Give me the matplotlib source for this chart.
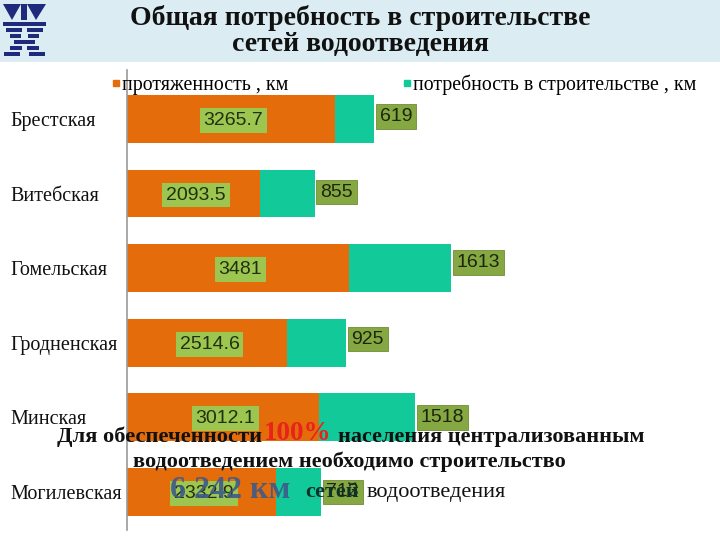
import numpy as np
import matplotlib.pyplot as plt
from matplotlib.patches import Rectangle, Polygon
from matplotlib.lines import Line2D

# данные по областям
regions = ['Брестская', 'Витебская', 'Гомельская', 'Гродненская', 'Минская', 'Могилевская']
length_km = [3265.7, 2093.5, 3481, 2514.6, 3012.1, 2332.9]
need_km = [619, 855, 1613, 925, 1518, 713]
need_lbl = ['619', '855', '1613', '925', '1518', '713']
len_lbl = ['3265.7', '2093.5', '3481', '2514.6', '3012.1', '2332.9']

ORANGE = '#e46c0a'
TEAL = '#12c99a'
SERIF = ['Liberation Serif', 'DejaVu Serif']
SANS = ['Liberation Sans', 'DejaVu Sans']

W, H = 720, 540
fig = plt.figure(figsize=(7.2, 5.4), dpi=100)


def fx(x):
    return x / W


def fy(y):
    return 1 - y / H


# шапка
fig.patches.append(Rectangle((0, fy(62)), 1, 62 / H, transform=fig.transFigure,
                             facecolor='#dbecf3', edgecolor='none', zorder=0))

# логотип (грубо)
navy = '#1f2a7c'
logo = [
    [(3, 4), (21, 4), (12, 20)],
    [(27, 4), (46, 4), (36, 20)],
    [(21, 4), (27, 4), (27, 20), (21, 20)],
    [(3, 22), (46, 22), (46, 26), (3, 26)],
    [(6, 28), (22, 28), (22, 32), (6, 32)],
    [(27, 28), (43, 28), (43, 32), (27, 32)],
    [(10, 34), (21, 34), (21, 38), (10, 38)],
    [(28, 34), (39, 34), (39, 38), (28, 38)],
    [(14, 40), (35, 40), (35, 44), (14, 44)],
    [(10, 46), (22, 46), (22, 50), (10, 50)],
    [(27, 46), (39, 46), (39, 50), (27, 50)],
    [(4, 52), (20, 52), (20, 56), (4, 56)],
    [(29, 52), (45, 52), (45, 56), (29, 56)],
]
for poly in logo:
    fig.patches.append(Polygon([(fx(x), fy(y)) for x, y in poly], closed=True,
                               transform=fig.transFigure, facecolor=navy,
                               edgecolor='none', zorder=1))

fig.text(fx(360), fy(18), 'Общая потребность в строительстве', ha='center', va='center',
         fontsize=20, fontweight='bold', family=SERIF, color='#111111')
fig.text(fx(360), fy(45), 'сетей водоотведения', ha='center', va='center',
         fontsize=20, fontweight='bold', family=SERIF, color='#111111')

# график
ax = fig.add_axes([fx(127), fy(530), 573 / W, 460 / H])
y = np.arange(len(regions))
bh = 0.64
b1 = ax.barh(y, length_km, height=bh, color=ORANGE, zorder=2)
b2 = ax.barh(y, need_km, left=length_km, height=bh, color=TEAL, zorder=2)

ax.set_xlim(0, 9000)
ax.set_ylim(5.51, -0.657)
ax.set_yticks(y)
ax.set_yticklabels(regions, family=SERIF, fontsize=14.5, color='#111111')
for lab in ax.get_yticklabels():
    lab.set_ha('left')
ax.tick_params(axis='y', length=0, pad=84)
ax.set_xticks([])
for s in ['top', 'right', 'bottom']:
    ax.spines[s].set_visible(False)
ax.spines['left'].set_color('#9a9a9a')
ax.spines['left'].set_linewidth(1.2)

dy = [-0.03, -0.02, -0.08, -0.05, 0.0, 0.0]
for i in range(len(regions)):
    ax.text(length_km[i] / 2 + 40, y[i] + 0.02, len_lbl[i], ha='center', va='center',
            fontsize=14, family=SANS, color='#22300f', zorder=4,
            bbox=dict(boxstyle='square,pad=0.2', facecolor='#9dc651', edgecolor='none'))
    ax.annotate(need_lbl[i], (length_km[i] + need_km[i], y[i] + dy[i]),
                xytext=(4, 0), textcoords='offset points', ha='left', va='center',
                fontsize=14, family=SANS, color='#1c260c', zorder=4,
                bbox=dict(boxstyle='square,pad=0.2', facecolor='#86a843',
                          edgecolor='#6f8c35', linewidth=0.6))

handles = [Line2D([], [], marker='s', ls='', color=ORANGE, markersize=5),
           Line2D([], [], marker='s', ls='', color=TEAL, markersize=5)]
fig.legend(handles, ['протяженность , км', 'потребность в строительстве , км'],
           loc='center left', bbox_to_anchor=(fx(112), fy(85)), ncol=2, frameon=False,
           prop={'family': SERIF, 'size': 14.3}, handlelength=0.4, handletextpad=0.1,
           columnspacing=5.8, borderpad=0, borderaxespad=0)

# надпись поверх графика
fig.text(fx(57), fy(437), 'Для обеспеченности', ha='left', va='center',
         fontsize=16.2, fontweight='bold', family=SERIF, color='#111111', zorder=5)
fig.text(fx(264), fy(434), '100%', ha='left', va='center',
         fontsize=19.5, fontweight='bold', family=SERIF, color='#e8231b', zorder=5)
fig.text(fx(338), fy(437), 'населения централизованным', ha='left', va='center',
         fontsize=16, fontweight='bold', family=SERIF, color='#111111', zorder=5)
fig.text(fx(133), fy(462), 'водоотведением необходимо строительство', ha='left', va='center',
         fontsize=16, fontweight='bold', family=SERIF, color='#111111', zorder=5)
fig.text(fx(170), fy(490), '6 242 км', ha='left', va='center',
         fontsize=23, fontweight='bold', family=SERIF, color='#3d5a8a', alpha=0.9, zorder=5)
fig.text(fx(305), fy(492), 'сетей', ha='left', va='center',
         fontsize=16, fontweight='bold', family=SERIF, color='#10302a', zorder=5)
fig.text(fx(367), fy(492), 'водоотведения', ha='left', va='center',
         fontsize=16, family=SERIF, color='#111111', zorder=5)

fig.savefig('out.png', dpi=100)
